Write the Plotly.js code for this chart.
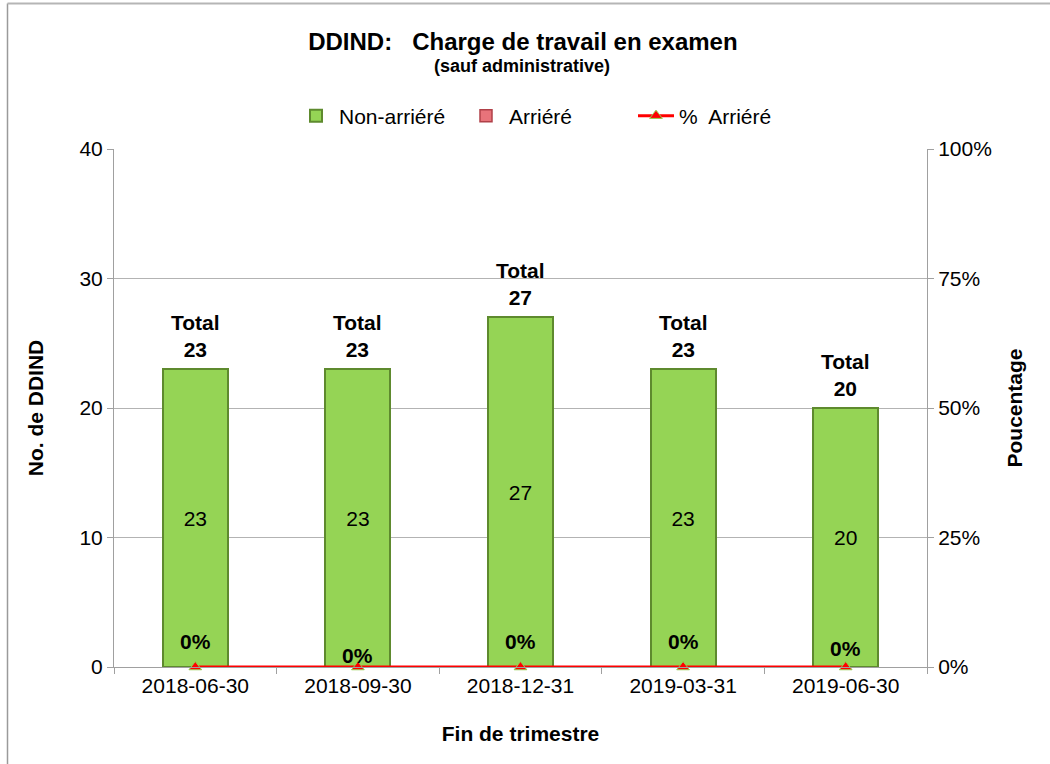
<!DOCTYPE html>
<html>
<head>
<meta charset="utf-8">
<script src="https://cdn.plot.ly/plotly-3.0.1.min.js"></script>
<style>html,body{margin:0;padding:0;background:#fff;}#chart{width:1050px;height:764px;}</style>
</head>
<body>
<div id="chart"></div>
<script>
const categories = ['2018-06-30','2018-09-30','2018-12-31','2019-03-31','2019-06-30'];
const nonArriere = [23, 23, 27, 23, 20];
const arriere = [0, 0, 0, 0, 0];
const pctArriere = [0, 0, 0, 0, 0];

const pctLabelShift = [26, 12, 26, 26, 19];

const FONT = '"Liberation Sans", Arial, sans-serif';
const FS = 21;
const totals = nonArriere.map((v, i) => v + arriere[i]);

const traces = [
  {
    type: 'bar', name: 'Arriéré', x: categories, y: arriere, legendrank: 2,
    marker: {color: '#e8737a', line: {color: '#b04048', width: 1.5}},
    hoverinfo: 'x+y'
  },
  {
    type: 'bar', name: 'Non-arriéré', x: categories, y: nonArriere, legendrank: 1,
    marker: {color: '#95d455', line: {color: '#5e8a2e', width: 2}},
    text: nonArriere.map(String), textposition: 'inside', insidetextanchor: 'middle',
    textfont: {family: FONT, size: FS, color: '#000'}, hoverinfo: 'x+y'
  },
  {
    type: 'scatter', mode: 'lines+markers', name: '%  Arriéré', x: categories, y: pctArriere,
    yaxis: 'y2', legendrank: 3, line: {color: '#ff0000', width: 3},
    marker: {symbol: 'triangle-up', size: 11, color: '#ff0000', line: {color: '#92d050', width: 1}},
    cliponaxis: false
  }
];

const L = 114, R = 123, T = 149, B = 97, W = 1050, H = 764;
const pw = W - L - R, ph = H - T - B;
const px = v => (v - L) / pw;
const py = v => (H - B - v) / ph;

const annotations = [{
  xref: 'paper', yref: 'paper', x: px(522), y: py(66), xanchor: 'center', yanchor: 'middle',
  text: '<b>(sauf administrative)</b>', showarrow: false,
  font: {family: FONT, size: 18, color: '#000'}
}];
categories.forEach((c, i) => {
  annotations.push({
    x: c, y: totals[i], xref: 'x', yref: 'y', yanchor: 'bottom', yshift: 6,
    text: '<b>Total<br>' + totals[i] + '</b>', showarrow: false,
    font: {family: FONT, size: FS, color: '#000'}
  });
  annotations.push({
    x: c, y: pctArriere[i], xref: 'x', yref: 'y2', yanchor: 'middle', yshift: pctLabelShift[i],
    text: '<b>' + Math.round(pctArriere[i] * 100) + '%</b>', showarrow: false,
    font: {family: FONT, size: FS, color: '#000'}
  });
});

const layout = {
  width: W, height: H,
  margin: {l: L, r: R, t: T, b: B},
  paper_bgcolor: '#fff', plot_bgcolor: '#fff',
  font: {family: FONT, size: FS, color: '#000'},
  title: {
    text: '<b>DDIND:&nbsp;&nbsp;&nbsp;Charge de travail en examen</b>',
    x: 0.498, xanchor: 'center', xref: 'container',
    y: 1 - 42 / H, yanchor: 'middle', yref: 'container',
    font: {family: FONT, size: 24, color: '#000'}
  },
  barmode: 'stack', bargap: 0.6,
  showlegend: true,
  legend: {
    orientation: 'h', x: px(548), xanchor: 'center', y: py(116), yanchor: 'middle',
    font: {family: FONT, size: FS, color: '#000'}, traceorder: 'normal',
    itemwidth: 36, entrywidth: 119, entrywidthmode: 'pixels', bgcolor: 'rgba(0,0,0,0)'
  },
  xaxis: {
    type: 'category', tickson: 'boundaries', ticks: 'outside', ticklen: 6, tickcolor: '#a0a0a0',
    showline: true, linecolor: '#a0a0a0', linewidth: 1, showgrid: false,
    tickfont: {family: FONT, size: FS, color: '#000'},
    title: {text: '<b>Fin de trimestre</b>', font: {family: FONT, size: FS, color: '#000'}, standoff: 30}
  },
  yaxis: {
    range: [0, 40], dtick: 10, ticks: 'outside', ticklen: 6, tickcolor: '#a0a0a0',
    showline: true, linecolor: '#a0a0a0', linewidth: 1,
    showgrid: true, gridcolor: '#b3b3b3', gridwidth: 1, zeroline: false,
    tickfont: {family: FONT, size: FS, color: '#000'},
    title: {text: '<b>No. de DDIND</b>', font: {family: FONT, size: FS, color: '#000'}, standoff: 30}
  },
  yaxis2: {
    overlaying: 'y', side: 'right', range: [0, 1], dtick: 0.25, tickformat: '.0%',
    ticks: 'outside', ticklen: 6, tickcolor: '#a0a0a0',
    showline: true, linecolor: '#a0a0a0', linewidth: 1, showgrid: false, zeroline: false,
    tickfont: {family: FONT, size: FS, color: '#000'},
    title: {text: '<b>Poucentage</b>', font: {family: FONT, size: FS, color: '#000'}, standoff: 16}
  },
  annotations: annotations,
  shapes: [
    {type: 'line', xref: 'paper', yref: 'paper', x0: px(7.5), x1: px(7.5), y0: py(3.5), y1: py(780), line: {color: '#9a9a9a', width: 1.5}, layer: 'above'},
    {type: 'line', xref: 'paper', yref: 'paper', x0: px(7.5), x1: px(1070), y0: py(3.5), y1: py(3.5), line: {color: '#b5b5b5', width: 2}, layer: 'above'}
  ]
};

Plotly.newPlot('chart', traces, layout, {displayModeBar: false, staticPlot: true});
</script>
</body>
</html>
